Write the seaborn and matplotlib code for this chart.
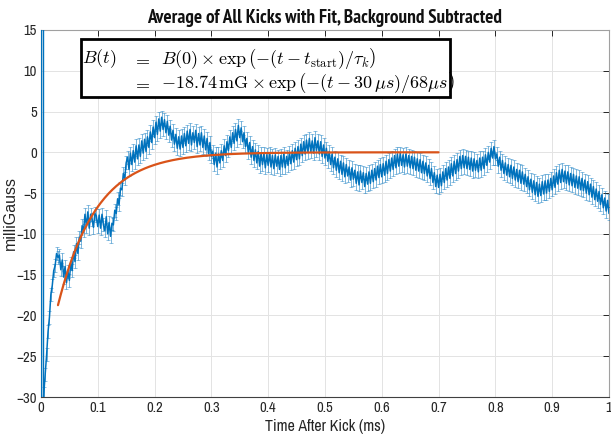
import numpy as np
import pandas as pd
import matplotlib
matplotlib.use("Agg")
import matplotlib.pyplot as plt
import seaborn as sns
from matplotlib import font_manager as fm
from matplotlib.patches import Rectangle

# ---- data -------------------------------------------------------------
# averaged field, one sample every 2.5 us starting at 2.5 us (time in ms)
t_start, t_step = 0.0025, 0.0025
field_mG = [
    # 0.0025 - 0.050
    -32.0, -29.6, -27.2, -24.8, -22.0, -20.2, -17.4, -16.3, -14.5, -13.9,
    -12.4, -12.9, -12.6, -14.4, -13.2, -15.3, -14.0, -16.0, -14.6, -15.7,
    # 0.0525 - 0.100
    -13.6, -14.5, -12.2, -13.4, -11.2, -12.4, -10.4, -10.9, -9.0, -9.6,
    -7.6, -9.1, -7.3, -9.3, -7.6, -8.2, -9.2, -7.5, -7.8, -9.1,
    # 0.1025 - 0.150
    -7.7, -9.3, -7.6, -8.9, -9.6, -7.9, -10.0, -8.6, -10.3, -8.7,
    -8.9, -7.1, -7.5, -5.7, -6.4, -4.4, -4.6, -2.6, -3.2, -1.3,
    # 0.1525 - 0.200
    -0.6, -2.1, -0.1, -1.5, 0.2, -1.2, 0.8, -0.8, 0.9, -0.5,
    1.4, -0.1, 1.6, 0.1, 1.9, 0.6, 2.5, 1.2, 3.1, 1.8,
    # 0.2025 - 0.250
    3.7, 2.2, 4.1, 2.6, 4.3, 2.8, 4.0, 2.4, 3.8, 2.1,
    3.2, 1.5, 2.7, 1.0, 2.2, 0.5, 1.9, 0.4, 2.0, 0.6,
    # 0.2525 - 0.300
    2.3, 0.8, 2.6, 1.1, 2.8, 0.9, 2.4, 1.2, 2.7, 0.7,
    2.3, 0.9, 2.4, 0.6, 2.0, 0.3, 1.7, -0.2, 1.2, -0.5,
    # 0.3025 - 0.350
    0.1, -1.5, -0.1, -1.8, -0.2, -1.3, 0.2, -1.0, 0.8, -0.4,
    1.3, 0.2, 1.9, 0.6, 2.4, 1.1, 2.8, 1.4, 3.3, 1.8,
    # 0.3525 - 0.400
    3.0, 1.3, 2.4, 0.7, 1.7, 0.0, 1.2, -0.6, 0.7, -1.0,
    0.3, -1.3, 0.1, -1.7, -0.1, -1.5, -0.2, -1.9, -0.3, -1.6,
    # 0.4025 - 0.450
    -0.1, -1.8, -0.4, -2.0, -0.3, -1.7, -0.5, -2.1, -0.4, -1.8,
    -0.2, -1.9, -0.5, -1.6, 0.0, -1.4, 0.2, -1.2, 0.5, -0.9,
    # 0.4525 - 0.500
    0.7, -0.8, 1.0, -0.4, 1.3, -0.2, 1.5, 0.0, 1.7, 0.1,
    1.4, -0.1, 1.8, 0.2, 1.4, -0.2, 1.3, -0.5, 0.9, -0.7,
    # 0.5025 - 0.550
    0.5, -1.1, 0.1, -1.5, -0.2, -1.9, -0.6, -2.2, -0.8, -2.5,
    -1.1, -2.7, -1.3, -3.0, -1.5, -2.9, -1.8, -3.4, -1.9, -3.3,
    # 0.5525 - 0.600
    -2.2, -3.8, -2.4, -4.0, -2.3, -3.7, -2.5, -4.2, -2.6, -3.9,
    -2.4, -3.8, -2.2, -3.6, -2.0, -3.4, -1.7, -3.1, -1.5, -3.0,
    # 0.6025 - 0.650
    -1.4, -2.8, -1.1, -2.6, -0.9, -2.3, -0.7, -2.1, -0.4, -1.9,
    -0.2, -1.7, -0.1, -1.6, -0.3, -1.8, -0.2, -1.7, -0.4, -1.9,
    # 0.6525 - 0.700
    -0.5, -2.0, -0.6, -2.2, -0.8, -2.3, -0.9, -2.5, -1.1, -2.6,
    -1.3, -2.9, -1.6, -3.2, -2.0, -3.7, -2.5, -4.2, -2.8, -4.3,
    # 0.7025 - 0.750
    -2.7, -4.1, -2.4, -3.7, -2.0, -3.4, -1.8, -3.2, -1.4, -2.9,
    -1.1, -2.6, -0.9, -2.3, -0.5, -2.0, -0.4, -1.9, -0.5, -2.0,
    # 0.7525 - 0.800
    -0.6, -2.1, -0.7, -2.3, -0.8, -2.2, -1.0, -2.4, -0.7, -2.2,
    -0.6, -2.0, -0.3, -1.6, 0.0, -1.2, 0.5, -0.7, 0.7, -0.8,
    # 0.8025 - 0.850
    -0.2, -1.7, -0.6, -2.2, -1.0, -2.6, -1.3, -2.8, -1.5, -3.0,
    -1.6, -3.2, -1.8, -3.4, -2.1, -3.6, -2.2, -3.8, -2.4, -3.9,
    # 0.8525 - 0.900
    -2.7, -4.2, -3.0, -4.6, -3.3, -4.9, -3.5, -5.2, -3.7, -5.4,
    -3.9, -5.3, -3.6, -5.1, -3.5, -5.0, -3.4, -4.8, -3.2, -4.6,
    # 0.9025 - 0.950
    -2.9, -4.3, -2.5, -3.9, -2.2, -3.7, -2.1, -3.6, -2.3, -3.8,
    -2.4, -4.0, -2.6, -4.1, -2.7, -4.3, -2.9, -4.4, -3.0, -4.6,
    # 0.9525 - 1.000
    -3.2, -4.7, -3.4, -5.0, -3.6, -5.2, -3.9, -5.5, -4.2, -5.8,
    -4.5, -6.0, -4.8, -6.4, -5.2, -6.8, -5.6, -7.2, -5.9, -7.5,
]
field_err = 0.8

# the first samples right after the kick carry very large uncertainties
early_t = [0.0008, 0.0040]
early_mG = [-45.0, -36.0]
early_err = [80.0, 60.0]

# exponential fit parameters
fit_B0 = -18.74      # mG
fit_t0 = 0.030       # ms  (30 us)
fit_tau = 0.068      # ms  (68 us)
fit_t_end = 0.70     # ms

x_ticks = [0, 0.1, 0.2, 0.3, 0.4, 0.5, 0.6, 0.7, 0.8, 0.9, 1]
y_ticks = [-30, -25, -20, -15, -10, -5, 0, 5, 10, 15]

# ---- frames -----------------------------------------------------------
time_ms = t_start + t_step * np.arange(len(field_mG))
df = pd.DataFrame({"t": time_ms, "B": field_mG})
t_fit = np.linspace(fit_t0, fit_t_end, 400)
df_fit = pd.DataFrame({"t": t_fit,
                       "B": fit_B0 * np.exp(-(t_fit - fit_t0) / fit_tau)})

# ---- fonts: prefer a narrow Helvetica-like face -------------------------
entries = fm.fontManager.ttflist
installed = {f.name for f in entries}


def has_bold(name):
    for f in entries:
        if f.name != name:
            continue
        w = f.weight
        if isinstance(w, str):
            if w.lower() in ("bold", "heavy", "black", "semibold", "demibold"):
                return True
        elif w >= 600:
            return True
    return False


narrow_choices = ["Liberation Sans Narrow", "Arial Narrow", "Archivo Narrow",
                  "PT Sans Narrow", "Pragati Narrow", "Roboto Condensed",
                  "Nimbus Sans Narrow", "IBM Plex Sans Condensed",
                  "Encode Sans Condensed"]
narrow = next((n for n in narrow_choices if n in installed), None)
narrow_bold = next((n for n in narrow_choices
                    if n in installed and has_bold(n)), None)

if narrow is not None:
    main_font = [narrow, "Liberation Sans", "DejaVu Sans"]
    k = 1.0
else:
    main_font = ["Liberation Sans", "DejaVu Sans"]
    k = 0.84
if narrow_bold is not None:
    title_font, title_size = [narrow_bold, "Liberation Sans"], 13.8
else:
    title_font, title_size = ["Liberation Sans", "DejaVu Sans"], 10.3

sns.set_theme(style="whitegrid")
plt.rcParams["font.family"] = main_font
plt.rcParams["mathtext.fontset"] = "cm"

blue = "#0072BD"
orange = "#D95319"
ink = "#262626"

fig = plt.figure(figsize=(6.11, 4.38), dpi=100)
ax = fig.add_axes([0.067, 0.0936, 0.9297, 0.838])
ax.set_facecolor("white")

# data: error bars plus the connecting line
ax.errorbar(early_t, early_mG, yerr=early_err, fmt="none", ecolor=blue,
            elinewidth=1.0, capsize=0, zorder=3)
ax.errorbar(df["t"], df["B"], yerr=field_err, fmt="none", ecolor=blue,
            elinewidth=0.6, capsize=1.5, capthick=0.5, alpha=0.6, zorder=3)
sns.lineplot(data=df, x="t", y="B", ax=ax, color=blue, linewidth=1.1,
             zorder=4, legend=False)
sns.lineplot(data=df_fit, x="t", y="B", ax=ax, color=orange, linewidth=1.6,
             zorder=5, legend=False)

ax.set_xlim(0, 1)
ax.set_ylim(-30, 15)
ax.set_xticks(x_ticks)
ax.set_xticklabels([f"{v:g}" for v in x_ticks])
ax.set_yticks(y_ticks)
ax.grid(True, color="#e3e3e3", linewidth=0.7)
ax.tick_params(direction="in", length=4, width=0.7, top=True, right=True,
               labelsize=10.5 * k, colors=ink, pad=3)
for side in ["left", "bottom"]:
    ax.spines[side].set_color("#404040")
    ax.spines[side].set_linewidth(0.8)
for side in ["top", "right"]:
    ax.spines[side].set_color("#a0a0a0")
    ax.spines[side].set_linewidth(0.8)

ax.set_xlabel("Time After Kick (ms)", fontsize=11.5 * k, color=ink, labelpad=3)
ax.set_ylabel("milliGauss", fontsize=11.5, color=ink,
              family=["Liberation Sans", "DejaVu Sans"])
ax.yaxis.set_label_coords(-0.040, 0.5)
ax.set_title("Average of All Kicks with Fit, Background Subtracted",
             fontsize=title_size, fontweight="bold", color="#111111", pad=5,
             family=title_font)

# fit equation box
ax.add_patch(Rectangle((0.0704, 0.817), 0.650, 0.158, transform=ax.transAxes,
                       facecolor="white", edgecolor="black", linewidth=2.0,
                       zorder=6))
eq_kw = dict(transform=ax.transAxes, fontsize=13, va="center", ha="left",
             zorder=7, color="black")
ax.text(0.073, 0.921, r"$B(t)$", **eq_kw)
ax.text(0.160, 0.921, r"$=$", **eq_kw)
ax.text(0.212, 0.921,
        r"$B(0) \times \exp\left(-(t - t_{\rm start})/\tau_k\right)$", **eq_kw)
ax.text(0.160, 0.856, r"$=$", **eq_kw)
ax.text(0.212, 0.856,
        r"$-18.74\,\mathrm{mG} \times \exp\left(-(t - 30\,\mu s)/68\mu s\right)$",
        **eq_kw)

fig.savefig("out.png", dpi=100)
